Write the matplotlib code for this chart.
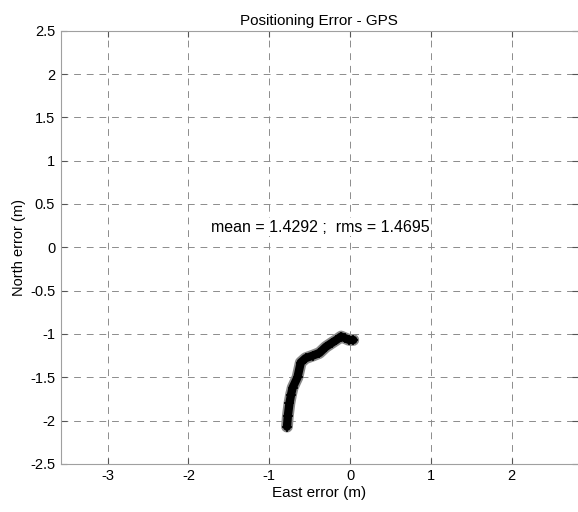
import matplotlib.pyplot as plt

plt.rcParams['font.family'] = ['Liberation Sans', 'DejaVu Sans']
plt.rcParams['axes.unicode_minus'] = False

# trace of the GPS position error
east_err = [-0.78, -0.77, -0.75, -0.73, -0.71, -0.65, -0.61, -0.55, -0.46, -0.38,
            -0.30, -0.22, -0.17, -0.11, -0.06, -0.01, 0.04]
north_err = [-2.07, -1.95, -1.80, -1.70, -1.62, -1.50, -1.33, -1.28, -1.25, -1.22,
             -1.15, -1.10, -1.07, -1.03, -1.05, -1.07, -1.07]

x_ticks = [-3, -2, -1, 0, 1, 2]
y_ticks = [-2.5, -2, -1.5, -1, -0.5, 0, 0.5, 1, 1.5, 2, 2.5]
stats_text = "mean = 1.4292 ;  rms = 1.4695"

fig = plt.figure(figsize=(5.78, 5.12), dpi=100)
ax = fig.add_axes([0.105, 0.094, 0.895, 0.846])

# fuzzy thick trace: grey halo + black core
ax.plot(east_err, north_err, color='#8a8a8a', lw=8.5, solid_capstyle='round', solid_joinstyle='round')
ax.plot(east_err, north_err, color='black', lw=6, solid_capstyle='round', solid_joinstyle='round')
ax.plot(east_err, north_err, ls='none', marker='+', ms=7, mew=1.2, color='black')

ax.set_xlim(-3.58, 2.82)
ax.set_ylim(-2.5, 2.5)
ax.set_xticks(x_ticks)
ax.set_yticks(y_ticks)
ax.set_yticklabels(['-2.5', '-2', '-1.5', '-1', '-0.5', '0', '0.5', '1', '1.5', '2', '2.5'])
ax.tick_params(direction='in', top=True, right=True, length=4, labelsize=10.5,
               color='#555555', pad=4)

ax.grid(True, ls=(0, (7, 6)), color='#8c8c8c', lw=0.7)
for side in ['left', 'top', 'bottom']:
    ax.spines[side].set_color('#a0a0a0')
    ax.spines[side].set_linewidth(0.8)
ax.spines['right'].set_visible(False)

ax.text(-1.72, 0.23, stats_text, fontsize=11.5, ha='left', va='center',
        bbox=dict(facecolor='white', edgecolor='none', pad=1))

ax.set_title("Positioning Error - GPS", fontsize=11, pad=4)
ax.set_xlabel("East error (m)", fontsize=11, labelpad=2)
ax.set_ylabel("North error (m)", fontsize=10.5, labelpad=3)

plt.savefig("out.png", dpi=100)
